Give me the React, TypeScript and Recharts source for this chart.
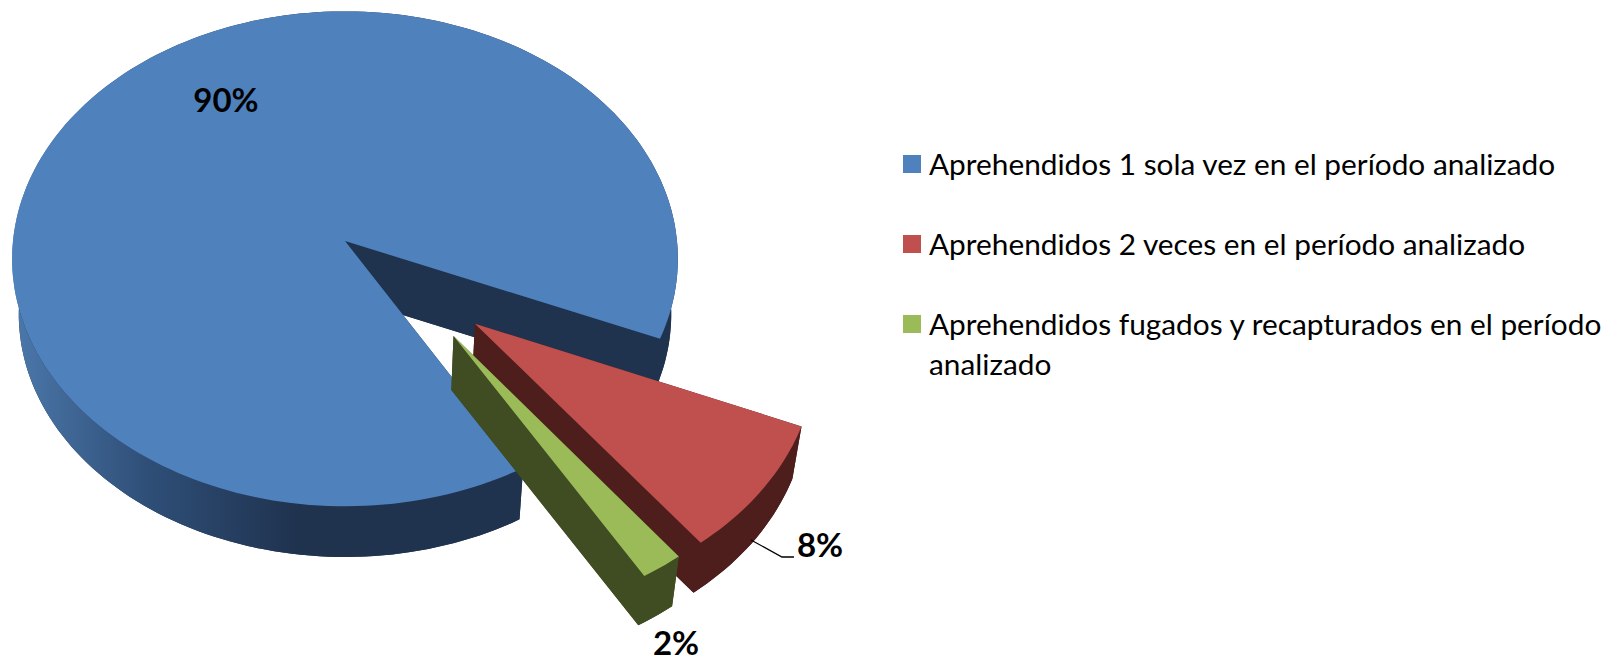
import React from 'react';
import { PieChart, Pie, Cell, Legend } from 'recharts';

const categories = [
  'Aprehendidos 1 sola vez en el período analizado',
  'Aprehendidos 2 veces en el período analizado',
  'Aprehendidos fugados y recapturados en el período analizado',
];
const values = [89.7, 8.4, 1.9];
const colors = ['#4f81bd', '#c0504d', '#9bbb59'];
const wallColors = ['#1f324e', '#4e1e1d', '#404d23'];

const tableData = categories.map((name, i) => ({ name, value: values[i] }));

// fake 3D: the sector angles come from the Pie, this only projects them
const TILT = 0.7415;
const PERSP = 0.072;
const BOTTOM_SCALE = 0.98;
const DEPTH = 56;
const explode = [
  [0, 0],
  [0.382, 0.328],
  [0.318, 0.375],
];

function project(u: number, v: number, cx: number, cy: number, r: number, bottom: boolean) {
  const k = 1 / (1 - PERSP * v);
  const s = bottom ? BOTTOM_SCALE : 1;
  return [cx + u * r * k * s, cy + v * r * TILT * k * s + (bottom ? DEPTH : 0)];
}

const toPath = (pts: number[][]) =>
  'M' + pts.map((p) => `${p[0].toFixed(1)},${p[1].toFixed(1)}`).join('L') + 'Z';

function Slice3D(props: any) {
  const { cx, cy, outerRadius, startAngle, endAngle, name } = props;
  const i = categories.indexOf(name);
  const [ox, oy] = explode[i];
  const steps = Math.ceil(Math.abs(endAngle - startAngle) / 1.5);
  const rim = (bottom: boolean) => {
    const pts: number[][] = [];
    for (let n = 0; n <= steps; n++) {
      const a = ((startAngle + ((endAngle - startAngle) * n) / steps) * Math.PI) / 180;
      pts.push(project(ox + Math.cos(a), oy - Math.sin(a), cx, cy, outerRadius, bottom));
    }
    return pts;
  };
  const topRim = rim(false);
  const lowRim = rim(true);
  const apexTop = project(ox, oy, cx, cy, outerRadius, false);
  const apexLow = project(ox, oy, cx, cy, outerRadius, true);
  const wall = wallColors[i];
  return (
    <g>
      <path d={toPath([apexLow, ...lowRim])} fill={wall} />
      <path d={toPath([apexTop, topRim[0], lowRim[0], apexLow])} fill={wall} />
      <path d={toPath([apexTop, topRim[steps], lowRim[steps], apexLow])} fill={wall} />
      <path
        d={toPath([...topRim, ...[...lowRim].reverse()])}
        fill={i === 0 ? 'url(#blueWall)' : wall}
      />
      <path d={toPath([apexTop, ...topRim])} fill={colors[i]} />
    </g>
  );
}

const labelSpots = [
  [226, 99],
  [820, 544],
  [676, 642],
];

function renderLabel(props: any) {
  const i = categories.indexOf(props.name);
  const [x, y] = labelSpots[i];
  return (
    <g key={props.name}>
      {i === 1 && <polyline points="751,540 782,557 794,557" fill="none" stroke="#000" strokeWidth={1.3} />}
      <text
        x={x}
        y={y}
        textAnchor="middle"
        dominantBaseline="central"
        fontFamily="Lato, sans-serif"
        fontWeight={700}
        fontSize={33}
        fill="#000"
      >
        {`${Math.round(props.value)}%`}
      </text>
    </g>
  );
}

function LegendBox() {
  return (
    <div style={{ fontFamily: 'Lato, sans-serif', fontSize: 29.8, lineHeight: '40px', color: '#000' }}>
      {categories.map((name, i) => (
        <div key={name} style={{ display: 'flex', alignItems: 'flex-start', marginBottom: 40 }}>
          <div style={{ width: 18, height: 18, marginTop: 11, marginRight: 8, background: colors[i], flex: 'none' }} />
          <div>{name}</div>
        </div>
      ))}
    </div>
  );
}

export default function App() {
  return (
    <div style={{ position: 'absolute', left: 0, top: 0 }}>
      <PieChart width={1606} height={662} margin={{ top: 0, right: 0, bottom: 0, left: 0 }}>
        <defs>
          <linearGradient id="blueWall" gradientUnits="userSpaceOnUse" x1="20" y1="0" x2="300" y2="0">
            <stop offset="0" stopColor="#4a76a8" />
            <stop offset="0.45" stopColor="#2f4f78" />
            <stop offset="1" stopColor="#1f324e" />
          </linearGradient>
        </defs>
        <Pie
          data={tableData}
          dataKey="value"
          nameKey="name"
          cx={345}
          cy={241}
          outerRadius={332}
          startAngle={-59.8}
          endAngle={-419.8}
          stroke="none"
          shape={Slice3D}
          label={renderLabel}
          labelLine={false}
          isAnimationActive={false}
        >
          {tableData.map((d, i) => (
            <Cell key={d.name} fill={colors[i]} />
          ))}
        </Pie>
        <Legend
          layout="vertical"
          align="right"
          verticalAlign="top"
          content={<LegendBox />}
          wrapperStyle={{ left: 903, top: 144, width: 703 }}
        />
      </PieChart>
    </div>
  );
}
